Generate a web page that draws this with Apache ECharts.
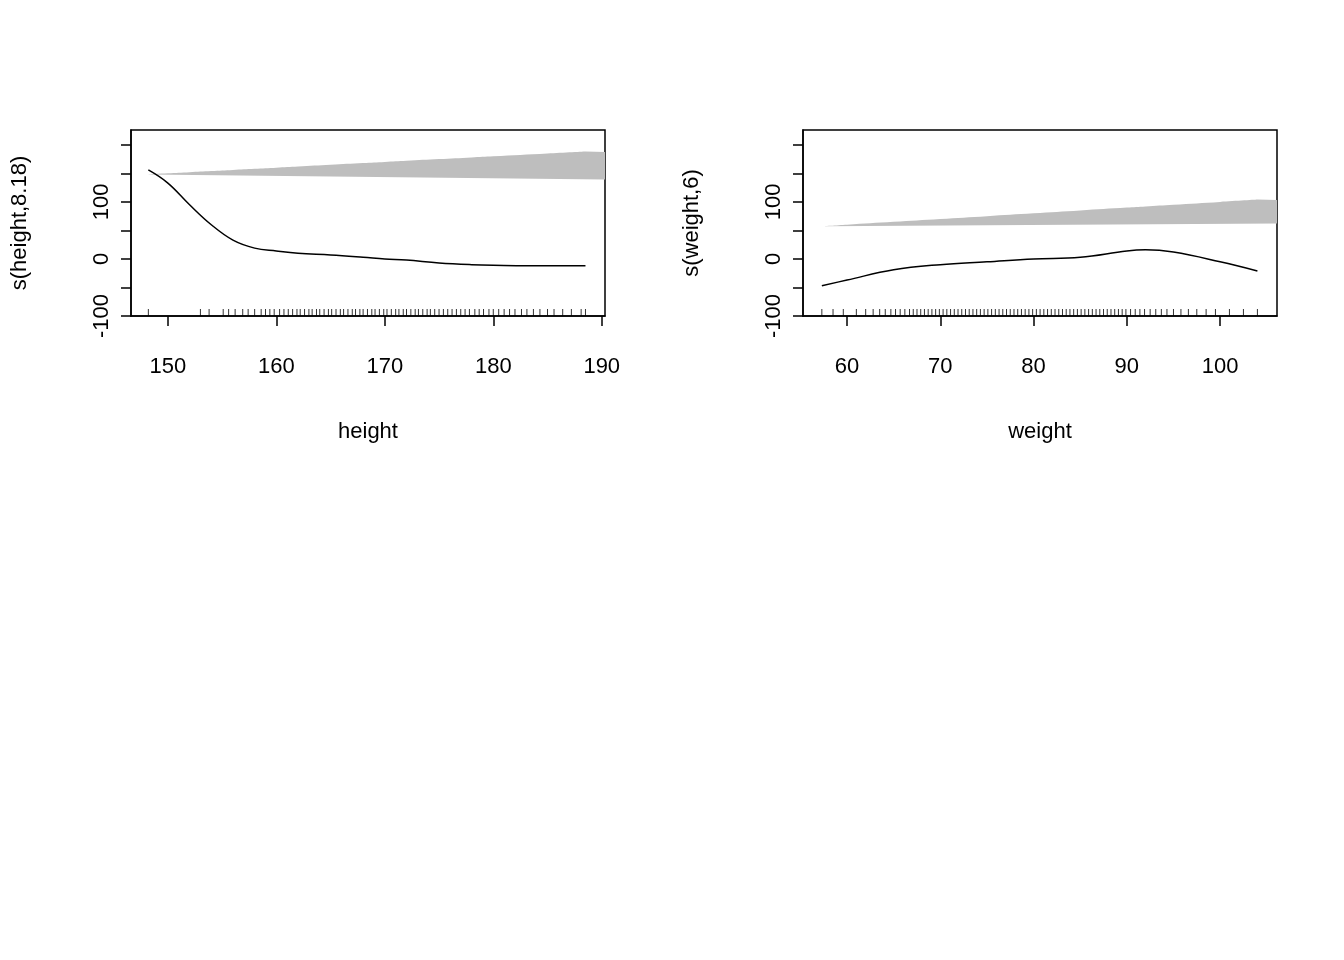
<!DOCTYPE html><html><head><meta charset="utf-8">
<script src="https://cdn.jsdelivr.net/npm/echarts@6/dist/echarts.min.js"></script>
<style>html,body{margin:0;background:#fff}#c{width:1344px;height:960px}</style></head><body><div id="c"></div>
<script>
const hX=[148.2,150,152,154,156,158,160,162,165,168,170,172,175,178,180,185,188.5];
const hFit=[156,133,95,60,33,19,14,10,7,3,0,-2,-7,-10,-11,-12,-12];
const hUp=[214,191,156,118,82,54,39,32,21,10,3,2,2,5,9,16,25];
const hLo=[98,81,42,16,-2,-9,-9,-8,-5,-2,0,-6,-12,-20,-28,-39,-49];
const wX=[57.3,60,65,70,75,80,85,90,92,95,100,104];
const wFit=[-47,-37,-19,-10,-5,0,3,14,16,12,-5,-21];
const wUp=[-4,2,14,9,4,0,7,30,38,38,28,18];
const wLo=[-67,-55,-40,-30,-12,-1,-1,-1,-6,-16,-40,-56];
const hRug=[148.2,153,153.8,155.1,155.6,156.2,156.9,157.4,158,158.6,159,159.4,159.8,160.3,160.7,161.1,161.5,161.9,162.2,162.6,163,163.3,163.7,164,164.4,164.8,165.1,165.5,165.9,166.2,166.6,167,167.3,167.7,168,168.4,168.8,169.1,169.5,169.9,170.2,170.6,171,171.3,171.7,172,172.4,172.8,173.1,173.5,173.9,174.2,174.6,175,175.4,175.8,176.2,176.6,177,177.4,177.8,178.3,178.7,179.1,179.6,180,180.5,181,181.5,182,182.6,183.1,183.7,184.3,185,185.6,186.4,187.2,188.1,188.5];
const wRug=[57.3,58.5,59.6,61,62,62.8,63.5,64.1,64.7,65.2,65.7,66.2,66.7,67.1,67.5,67.9,68.3,68.7,69.1,69.5,69.9,70.3,70.7,71.1,71.5,71.9,72.3,72.7,73.1,73.5,73.9,74.3,74.7,75.1,75.5,75.9,76.3,76.7,77.1,77.5,77.9,78.3,78.7,79.1,79.5,79.9,80.3,80.7,81.1,81.5,81.9,82.3,82.7,83.1,83.5,83.9,84.3,84.7,85.1,85.5,85.9,86.3,86.7,87.1,87.5,87.9,88.3,88.7,89.1,89.5,89.9,90.4,90.9,91.4,91.9,92.5,93.1,93.7,94.3,95,95.8,96.6,97.5,98.5,99.5,101,102.5,104];
const yTicks=[-100,-50,0,50,100,150,200];
const yLabels=[-100,0,100];
const hTicks=[150,160,170,180,190];
const wTicks=[60,70,80,90,100];
const F='Liberation Sans, Arial, sans-serif';
function xa(i,min,max,ticks,name){return {gridIndex:i,type:'value',min,max,name,nameLocation:'middle',nameGap:105,
 nameTextStyle:{fontSize:22,color:'#000',fontFamily:F},splitLine:{show:false},
 axisLine:{show:true,onZero:false,lineStyle:{color:'#000',width:1.5}},
 axisTick:{show:true,length:10,lineStyle:{color:'#000',width:1.5},customValues:ticks},
 axisLabel:{customValues:ticks,fontSize:22,color:'#000',fontFamily:F,margin:40}};}
function ya(i,name){return {gridIndex:i,type:'value',min:-100,max:226,name,nameLocation:'middle',nameGap:100,
 nameTextStyle:{fontSize:22,color:'#000',fontFamily:F},splitLine:{show:false},
 axisLine:{show:true,lineStyle:{color:'#000',width:1.5}},
 axisTick:{show:true,length:10,lineStyle:{color:'#000',width:1.5},customValues:yTicks},
 axisLabel:{customValues:yLabels,rotate:90,fontSize:22,color:'#000',fontFamily:F,margin:18}};}
function pairs(x,y){return x.map((v,i)=>[v,y[i]]);}
function ser(i,x,fit,up,lo,rug){const st='band'+i;return [
 {type:'line',xAxisIndex:i,yAxisIndex:i,stack:st,data:pairs(x,lo),smooth:0.4,symbol:'none',lineStyle:{width:0},z:1},
 {type:'line',xAxisIndex:i,yAxisIndex:i,stack:st,data:pairs(x,up.map((u,k)=>u-lo[k])),smooth:0.4,symbol:'none',lineStyle:{width:0},areaStyle:{color:'#bebebe',opacity:1},z:1},
 {type:'line',xAxisIndex:i,yAxisIndex:i,data:pairs(x,fit),smooth:0.4,symbol:'none',lineStyle:{color:'#000',width:1.5},z:3},
 {type:'scatter',xAxisIndex:i,yAxisIndex:i,data:rug.map(v=>[v,-100]),symbol:'rect',symbolSize:[1,7],symbolOffset:[0,-3.5],itemStyle:{color:'#000'},clip:false,z:4}
];}
const ch=echarts.init(document.getElementById('c'));
ch.setOption({animation:false,
 grid:[{left:131,width:474,top:130,height:186,show:true,borderColor:'#000',borderWidth:1.5},
       {left:803,width:474,top:130,height:186,show:true,borderColor:'#000',borderWidth:1.5}],
 xAxis:[xa(0,146.6,190.3,hTicks,'height'),xa(1,55.28,106.1,wTicks,'weight')],
 yAxis:[ya(0,'s(height,8.18)'),ya(1,'s(weight,6)')],
 series:[...ser(0,hX,hFit,hUp,hLo,hRug),...ser(1,wX,wFit,wUp,wLo,wRug)]});
</script></body></html>
